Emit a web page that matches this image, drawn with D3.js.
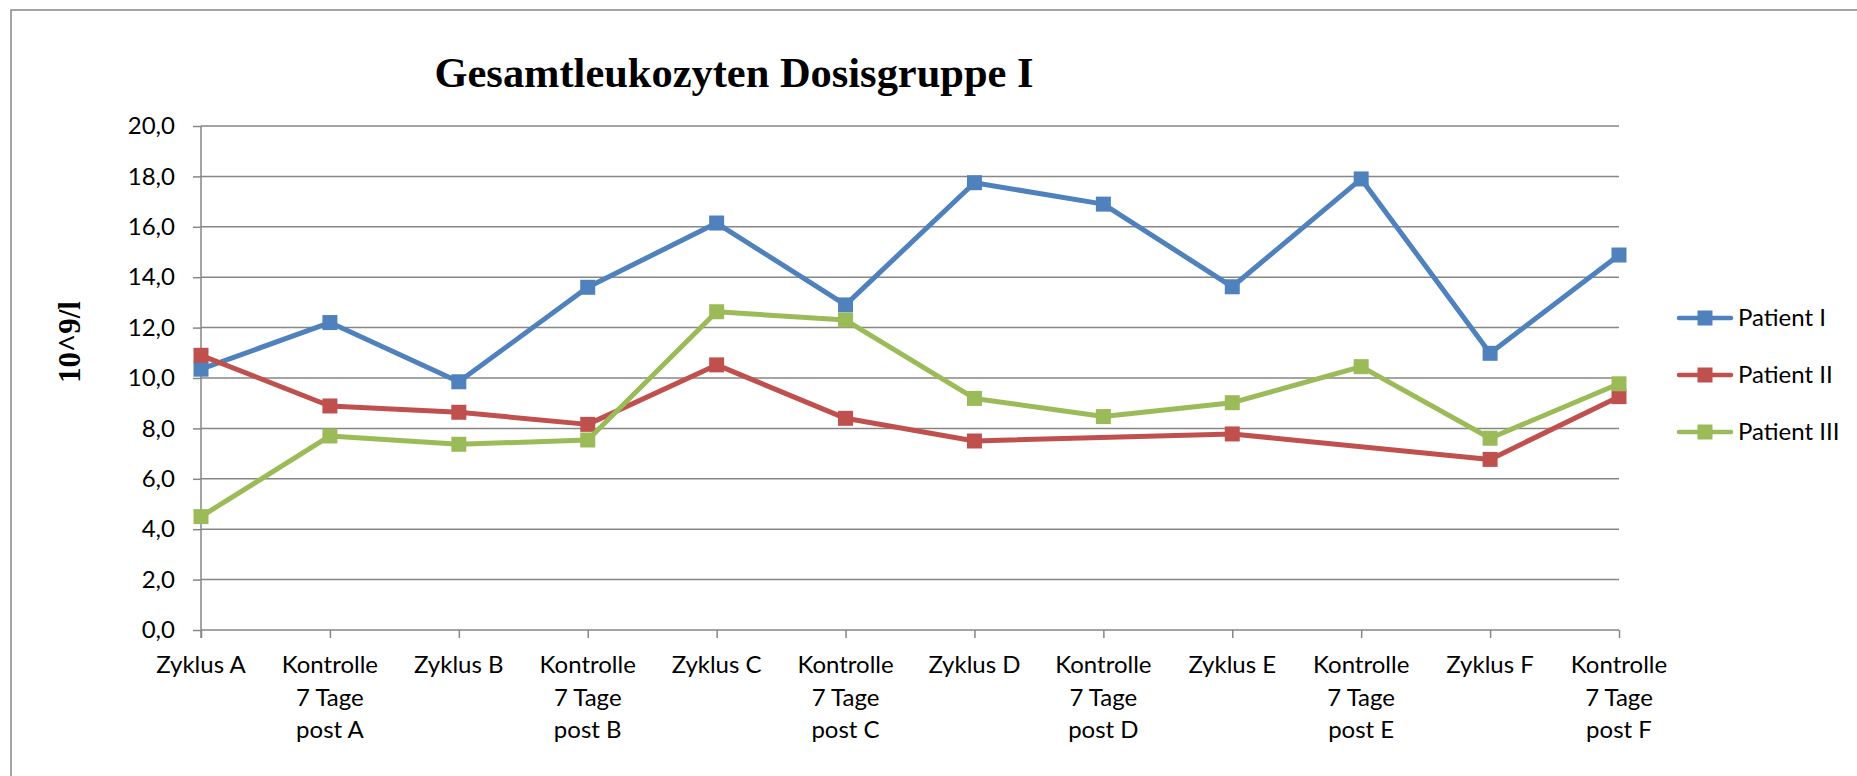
<!DOCTYPE html>
<html>
<head>
<meta charset="utf-8">
<script src="https://cdn.jsdelivr.net/npm/d3@7"></script>
<style>
  body { margin: 0; background: #fff; }
  svg { display: block; }
</style>
</head>
<body>
<div id="chart"></div>
<script>
// categories (line breaks as in the original axis)
var categories = [
  "Zyklus A", "Kontrolle\n7 Tage\npost A",
  "Zyklus B", "Kontrolle\n7 Tage\npost B",
  "Zyklus C", "Kontrolle\n7 Tage\npost C",
  "Zyklus D", "Kontrolle\n7 Tage\npost D",
  "Zyklus E", "Kontrolle\n7 Tage\npost E",
  "Zyklus F", "Kontrolle\n7 Tage\npost F"
];

var seriesNames = ["Patient I", "Patient II", "Patient III"];
var seriesColors = ["#4F81BD", "#C0504D", "#9BBB59"];

var patient1 = [10.35, 12.2, 9.85, 13.6, 16.15, 12.9, 17.75, 16.9, 13.62, 17.9, 10.98, 14.88];
var patient2 = [10.9, 8.89, 8.64, 8.16, 10.52, 8.4, 7.5, null, 7.78, null, 6.77, 9.26];
var patient3 = [4.5, 7.7, 7.37, 7.54, 12.63, 12.3, 9.19, 8.47, 9.02, 10.45, 7.61, 9.77];

var yTicks = [0, 2, 4, 6, 8, 10, 12, 14, 16, 18, 20];

var title = "Gesamtleukozyten Dosisgruppe I";
var yTitle = "10^9/l";

const WIDTH = 1857;
const HEIGHT = 776;
const PLOT_LEFT = 201;
const PLOT_RIGHT = 1619;
const PLOT_TOP = 126;
const PLOT_BOTTOM = 630;

var translate = function(x, y){
  return "translate(" + x + "," + y + ")";
};

var xScale = d3.scalePoint()
  .domain(d3.range(categories.length))
  .range([PLOT_LEFT, PLOT_RIGHT])
  .padding(0);

var yScale = d3.scaleLinear()
  .domain([0, 20])
  .range([PLOT_BOTTOM, PLOT_TOP]);

var fmt = d3.formatLocale({decimal: ",", thousands: ".", grouping: [3], currency: ["", "€"]}).format(".1f");

var svg = d3.select("#chart").append("svg")
  .attr("width", WIDTH)
  .attr("height", HEIGHT);

// outer chart border
svg.append("rect")
  .attr("x", 11).attr("y", 10)
  .attr("width", WIDTH + 20).attr("height", HEIGHT + 20)
  .attr("fill", "#fff")
  .attr("stroke", "#868686")
  .attr("stroke-width", 1.5);

// gridlines
svg.append("g").selectAll("line")
  .data(yTicks.filter(function(d){ return d > 0; }))
  .enter().append("line")
  .attr("x1", PLOT_LEFT).attr("x2", PLOT_RIGHT)
  .attr("y1", function(d){ return yScale(d); })
  .attr("y2", function(d){ return yScale(d); })
  .attr("stroke", "#868686")
  .attr("stroke-width", 1.5);

// y axis
var yAxis = d3.axisLeft(yScale).tickValues(yTicks).tickSize(8).tickPadding(18).tickFormat(fmt);
var yg = svg.append("g")
  .attr("transform", translate(PLOT_LEFT, 0))
  .call(yAxis);
yg.select(".domain").remove();
yg.append("line")
  .attr("x1", 0).attr("x2", 0)
  .attr("y1", PLOT_TOP).attr("y2", PLOT_BOTTOM + 8)
  .attr("stroke", "#868686").attr("stroke-width", 1.5);
yg.selectAll(".tick line").attr("stroke", "#868686").attr("stroke-width", 1.5);
yg.selectAll(".tick text")
  .attr("fill", "#000")
  .style("font-family", "Lato, 'Open Sans', sans-serif")
  .style("font-size", "24px");

// x axis
var xAxis = d3.axisBottom(xScale).tickSize(8).tickFormat("");
var xg = svg.append("g")
  .attr("transform", translate(0, PLOT_BOTTOM))
  .call(xAxis);
xg.select(".domain").remove();
xg.append("line")
  .attr("x1", PLOT_LEFT).attr("x2", PLOT_RIGHT)
  .attr("y1", 0).attr("y2", 0)
  .attr("stroke", "#868686").attr("stroke-width", 1.5);
xg.selectAll(".tick line").attr("stroke", "#868686").attr("stroke-width", 1.5);

var labels = svg.append("g")
  .style("font-family", "Lato, 'Open Sans', sans-serif")
  .style("font-size", "24px")
  .attr("fill", "#000")
  .attr("text-anchor", "middle");

categories.forEach(function(c, i){
  var t = labels.append("text")
    .attr("x", xScale(i))
    .attr("y", 673);
  c.split("\n").forEach(function(part, j){
    t.append("tspan")
      .attr("x", xScale(i))
      .attr("dy", j === 0 ? 0 : 32.5)
      .text(part);
  });
});

// series
var line = d3.line()
  .x(function(d){ return xScale(d.i); })
  .y(function(d){ return yScale(d.v); });

var allSeries = [patient1, patient2, patient3];
var MARK = 15;

allSeries.forEach(function(values, s){
  var pts = values.map(function(v, i){ return {i: i, v: v}; })
    .filter(function(d){ return d.v !== null; });
  var g = svg.append("g");
  g.append("path")
    .attr("d", line(pts))
    .attr("fill", "none")
    .attr("stroke", seriesColors[s])
    .attr("stroke-width", 5)
    .attr("stroke-linejoin", "round")
    .attr("stroke-linecap", "round");
  g.selectAll("rect")
    .data(pts)
    .enter().append("rect")
    .attr("x", function(d){ return xScale(d.i) - MARK / 2; })
    .attr("y", function(d){ return yScale(d.v) - MARK / 2; })
    .attr("width", MARK)
    .attr("height", MARK)
    .attr("fill", seriesColors[s]);
});

// title
svg.append("text")
  .attr("x", 734)
  .attr("y", 87)
  .attr("text-anchor", "middle")
  .style("font-family", "'Liberation Serif', 'Times New Roman', serif")
  .style("font-weight", "bold")
  .style("font-size", "43px")
  .attr("textLength", 599)
  .attr("lengthAdjust", "spacingAndGlyphs")
  .text(title);

// y axis title
svg.append("text")
  .attr("transform", translate(80, 342) + " rotate(-90)")
  .attr("text-anchor", "middle")
  .style("font-family", "'Liberation Serif', 'Times New Roman', serif")
  .style("font-weight", "bold")
  .style("font-size", "31px")
  .text(yTitle);

// legend
var legend = svg.append("g").attr("transform", translate(1677, 318));
seriesNames.forEach(function(name, s){
  var row = legend.append("g").attr("transform", translate(0, s * 57));
  row.append("line")
    .attr("x1", 2).attr("x2", 54)
    .attr("stroke", seriesColors[s])
    .attr("stroke-width", 4.5)
    .attr("stroke-linecap", "round");
  row.append("rect")
    .attr("x", 28 - MARK / 2).attr("y", -MARK / 2)
    .attr("width", MARK).attr("height", MARK)
    .attr("fill", seriesColors[s]);
  row.append("text")
    .attr("x", 61)
    .attr("dy", "0.35em")
    .style("font-family", "Lato, 'Open Sans', sans-serif")
    .style("font-size", "24px")
    .attr("fill", "#000")
    .text(name);
});
</script>
</body>
</html>
